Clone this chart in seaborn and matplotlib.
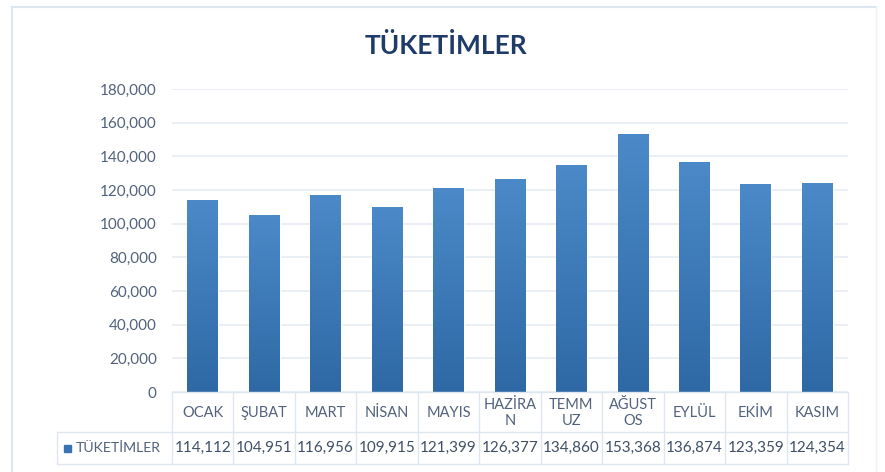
import numpy as np
import pandas as pd
import seaborn as sns
import matplotlib.pyplot as plt
from matplotlib.lines import Line2D
from matplotlib.patches import Rectangle
from matplotlib.colors import LinearSegmentedColormap

# Data
months = ["OCAK", "ŞUBAT", "MART", "NİSAN", "MAYIS", "HAZİRAN", "TEMMUZ", "AĞUSTOS", "EYLÜL", "EKİM", "KASIM"]
tick_labels = ["OCAK", "ŞUBAT", "MART", "NİSAN", "MAYIS", "HAZİRA\nN", "TEMM\nUZ", "AĞUST\nOS", "EYLÜL", "EKİM", "KASIM"]
consumption = [114112, 104951, 116956, 109915, 121399, 126377, 134860, 153368, 136874, 123359, 124354]
series_name = "TÜKETİMLER"
y_ticks = list(range(0, 180001, 20000))

sns.set_theme(style="white")
plt.rcParams["font.family"] = ["Lato", "DejaVu Sans"]

text_col = "#52627c"
grid_col = "#e8eef6"
line_col = "#dde6f1"

W, H = 885, 472
fig = plt.figure(figsize=(W / 100, H / 100), dpi=100)

# plot area in pixel coordinates of the reference
left, right, top, bottom = 172, 848, 89, 392
ax = fig.add_axes([left / W, 1 - bottom / H, (right - left) / W, (bottom - top) / H])

df = pd.DataFrame({"month": months, "value": consumption})
sns.barplot(data=df, x="month", y="value", color="#3b78b8", width=0.5, ax=ax, zorder=2)

# gradient on every bar (lighter at top, darker at bottom)
cmap = LinearSegmentedColormap.from_list("bar", ["#2e69a5", "#4b89c8"])
grad = np.linspace(0, 1, 256).reshape(-1, 1)
for p in ax.patches:
    x0, y0 = p.get_x(), p.get_y()
    w, h = p.get_width(), p.get_height()
    im = ax.imshow(grad, cmap=cmap, origin="lower", aspect="auto",
                   extent=[x0, x0 + w, y0, y0 + h], zorder=3)
    im.set_clip_path(p)

ax.set_xlim(-0.5, len(months) - 0.5)
ax.set_ylim(0, 180000)
ax.set_yticks(y_ticks)
ax.set_yticklabels([f"{v:,}" for v in y_ticks], color=text_col, fontsize=11)
ax.tick_params(axis="y", length=0, pad=11)
ax.set_xticks([])
ax.set_xlabel("")
ax.set_ylabel("")
for s in ax.spines.values():
    s.set_visible(False)
ax.yaxis.grid(True, color=grid_col, linewidth=1.3, zorder=0)
ax.set_axisbelow(True)

# data table under the chart, drawn in figure pixel coordinates
def fx(px):
    return px / W

def fy(py):
    return 1 - py / H

col_w = (right - left) / len(months)
row1_top, row1_bot, row2_bot = 392, 432, 464
legend_left = 57

lines = [
    ((left, right), (row1_top, row1_top)),
    ((legend_left, right), (row1_bot, row1_bot)),
    ((legend_left, right), (row2_bot, row2_bot)),
    ((legend_left, legend_left), (row1_bot, row2_bot)),
]
for i in range(len(months) + 1):
    xx = left + i * col_w
    lines.append(((xx, xx), (row1_top, row2_bot)))
for (xs, ys) in lines:
    fig.add_artist(Line2D([fx(xs[0]), fx(xs[1])], [fy(ys[0]), fy(ys[1])],
                          color=line_col, linewidth=1))

row2_mid = 448
for i, (lab, val) in enumerate(zip(tick_labels, consumption)):
    cx = left + (i + 0.5) * col_w
    fig.text(fx(cx), fy((row1_top + row1_bot) / 2 + 1), lab, ha="center", va="center",
             color=text_col, fontsize=10.5, linespacing=1.1)
    fig.text(fx(cx), fy(row2_mid), f"{val:,}", ha="center", va="center",
             color="#3f4f66", fontsize=11)

# legend key + series name
fig.add_artist(Rectangle((fx(64), fy(452)), 7 / W, 7 / H, color="#3874b4"))
fig.text(fx(76), fy(row2_mid), series_name, ha="left", va="center",
         color=text_col, fontsize=10.2)

# title
fig.text(fx(446), fy(46), series_name, ha="center", va="center",
         color="#1f3b68", fontsize=19, fontweight="bold")

# faint outer frame of the chart object
fig.add_artist(Line2D([fx(12), fx(876)], [fy(7), fy(7)], color="#dde7f2", linewidth=1.5))
fig.add_artist(Line2D([fx(12), fx(12)], [fy(7), fy(472)], color="#dde7f2", linewidth=1.5))
fig.add_artist(Line2D([fx(876), fx(876)], [fy(7), fy(472)], color="#eef3f9", linewidth=1))

fig.savefig("out.png", dpi=100)
